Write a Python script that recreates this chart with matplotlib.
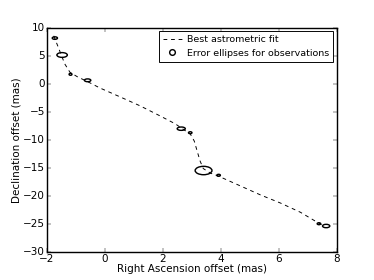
import matplotlib
matplotlib.use("Agg")
import matplotlib.pyplot as plt
from matplotlib.patches import Ellipse
from matplotlib.lines import Line2D

# best-fit track (mas)
fit_ra = [-1.76, -1.62, -1.50, -1.38, -1.20, -0.93, -0.62, -0.17, 0.53, 1.22,
          1.91, 2.43, 2.74, 2.95, 3.09, 3.19, 3.29, 3.40, 3.64, 3.90,
          4.68, 5.37, 6.06, 6.75, 7.27, 7.52]
fit_dec = [8.6, 6.8, 5.2, 3.6, 2.1, 1.25, 0.5, -0.7, -2.3, -3.9,
           -5.7, -7.1, -8.2, -8.9, -10.2, -12.0, -13.75, -15.1, -15.9, -16.4,
           -18.2, -19.8, -21.25, -22.9, -24.5, -25.2]

# observations: centre and error ellipse size (full width/height, mas)
obs_ra = [-1.72, -1.47, -1.18, -0.59, 2.64, 2.95, 3.41, 3.93, 7.39, 7.64]
obs_dec = [8.2, 5.18, 1.73, 0.66, -7.98, -8.7, -15.45, -16.3, -24.95, -25.36]
obs_w = [0.18, 0.36, 0.10, 0.22, 0.28, 0.12, 0.58, 0.12, 0.12, 0.25]
obs_h = [0.45, 0.85, 0.35, 0.50, 0.60, 0.35, 1.50, 0.35, 0.35, 0.60]

plt.style.use("classic")
fig = plt.figure(figsize=(5.5, 280 / 68), facecolor="white")
ax = fig.add_subplot(111)

ax.plot(fit_ra, fit_dec, "k--", lw=1, dashes=(4, 4), label="Best astrometric fit")
for x, y, w, h in zip(obs_ra, obs_dec, obs_w, obs_h):
    ax.add_patch(Ellipse((x, y), w, h, fill=False, ec="k", lw=1.5))

ax.set_xlim(-2, 8)
ax.set_ylim(-30, 10)
ax.set_xticks(range(-2, 9, 2))
ax.set_yticks(range(-30, 11, 5))
ax.tick_params(labelsize=11, pad=2, length=4)
for s in ax.spines.values():
    s.set_linewidth(1.5)
ax.set_xlabel("Right Ascension offset (mas)", fontsize=11, labelpad=0)
ax.set_ylabel("Declination offset (mas)", fontsize=11, labelpad=1)

proxy = Line2D([], [], ls="none", marker="o", mfc="none", mec="k", mew=1.5, ms=6,
               label="Error ellipses for observations")
handles = [ax.lines[0], proxy]
ax.legend(handles=handles, loc="upper right", numpoints=1, fontsize=10,
          handlelength=2, borderaxespad=0.35, labelspacing=0.5,
          borderpad=0.4, handletextpad=0.6)

fig.savefig("out.png", dpi=68)
